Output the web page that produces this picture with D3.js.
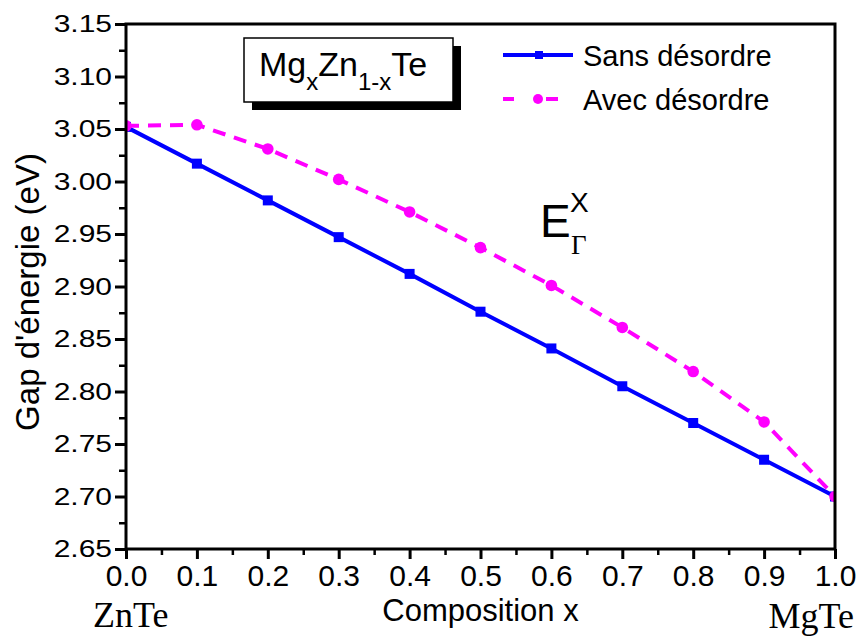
<!DOCTYPE html>
<meta charset="utf-8">
<script src="https://d3js.org/d3.v7.min.js"></script>
<style>
  body { margin: 0; background: #fff; }
  text { font-family: "Liberation Sans", Arial, sans-serif; fill: #000; }
  .serif { font-family: "Liberation Serif", "Times New Roman", serif; }
</style>
<div id="chart"></div>
<script>

// data
var composition = [0.0, 0.1, 0.2, 0.3, 0.4, 0.5, 0.6, 0.7, 0.8, 0.9, 1.0];
var sansDesordre = [3.052, 3.017, 2.982, 2.947, 2.912, 2.876, 2.841, 2.805, 2.770, 2.735, 2.700];
var avecDesordre = [3.053, 3.054, 3.031, 3.002, 2.971, 2.937, 2.901, 2.861, 2.819, 2.771, 2.700];
var xTicks = [0.0, 0.1, 0.2, 0.3, 0.4, 0.5, 0.6, 0.7, 0.8, 0.9, 1.0];
var yTicks = [2.65, 2.70, 2.75, 2.80, 2.85, 2.90, 2.95, 3.00, 3.05, 3.10, 3.15];

var W = 857, H = 644;
var margin = {top: 24, right: 22, bottom: 95, left: 126},
    width = W - margin.left - margin.right,
    height = H - margin.top - margin.bottom;

var svg = d3.select("#chart").append("svg")
    .attr("width", W)
    .attr("height", H);

var g = svg.append("g")
    .attr("transform", "translate(" + margin.left + "," + margin.top + ")");

var x = d3.scaleLinear().domain([0, 1]).range([0, width]);
var y = d3.scaleLinear().domain([2.65, 3.15]).range([height, 0]);

// minor ticks (half steps)
var xMinor = d3.range(0.05, 1, 0.1);
var yMinor = d3.range(2.675, 3.15, 0.05);

g.append("g")
    .attr("transform", "translate(0," + height + ")")
    .call(d3.axisBottom(x).tickValues(xMinor).tickSize(6).tickSizeOuter(0).tickFormat(""))
    .call(function(a) { a.select(".domain").remove(); a.selectAll("line").attr("stroke-width", 2.5); });

g.append("g")
    .call(d3.axisLeft(y).tickValues(yMinor).tickSize(7).tickSizeOuter(0).tickFormat(""))
    .call(function(a) { a.select(".domain").remove(); a.selectAll("line").attr("stroke-width", 2.5); });

// x axis
var xAxis = g.append("g")
    .attr("transform", "translate(0," + height + ")")
    .call(d3.axisBottom(x).tickValues(xTicks).tickSize(10).tickSizeOuter(0).tickPadding(6)
      .tickFormat(d3.format(".1f")));
xAxis.select(".domain").remove();
xAxis.selectAll("line").attr("stroke-width", 3);
xAxis.selectAll("text").style("font-size", "30px").attr("font-family", null);

// y axis (labels a bit flattened, as in the original)
var yAxis = g.append("g")
    .call(d3.axisLeft(y).tickValues(yTicks).tickSize(11).tickSizeOuter(0).tickFormat(d3.format(".2f")));
yAxis.select(".domain").remove();
yAxis.selectAll("line").attr("stroke-width", 3);
yAxis.selectAll("text")
    .attr("x", 0)
    .attr("transform", "translate(-14,0) scale(1.25,1)")
    .style("font-size", "24px")
    .attr("font-family", null);

// clip for the data
g.append("clipPath").attr("id", "clip")
  .append("rect").attr("width", width).attr("height", height);

var plot = g.append("g").attr("clip-path", "url(#clip)");

var sansData = composition.map(function(c, i) { return [c, sansDesordre[i]]; });
var avecData = composition.map(function(c, i) { return [c, avecDesordre[i]]; });

var line = d3.line()
    .x(function(d) { return x(d[0]); })
    .y(function(d) { return y(d[1]); });

plot.append("path")
    .datum(sansData)
    .attr("fill", "none")
    .attr("stroke", "#0000ff")
    .attr("stroke-width", 4)
    .attr("d", line);

plot.selectAll(".sq")
  .data(sansData)
  .enter().append("rect")
    .attr("x", function(d) { return x(d[0]) - 5; })
    .attr("y", function(d) { return y(d[1]) - 5; })
    .attr("width", 10)
    .attr("height", 10)
    .attr("fill", "#0000ff");

plot.append("path")
    .datum(avecData)
    .attr("fill", "none")
    .attr("stroke", "#ff00ff")
    .attr("stroke-width", 4)
    .attr("stroke-dasharray", "13,9")
    .attr("d", line);

plot.selectAll(".dot")
  .data(avecData)
  .enter().append("circle")
    .attr("cx", function(d) { return x(d[0]); })
    .attr("cy", function(d) { return y(d[1]); })
    .attr("r", 5.8)
    .attr("fill", "#ff00ff");

// frame
g.append("rect")
    .attr("width", width)
    .attr("height", height)
    .attr("fill", "none")
    .attr("stroke", "#000")
    .attr("stroke-width", 3);

// axis titles
svg.append("text")
    .attr("transform", "translate(39,292) rotate(-90)")
    .attr("text-anchor", "middle")
    .style("font-size", "33px")
    .text("Gap d'énergie (eV)");

svg.append("text")
    .attr("x", margin.left + width / 2)
    .attr("y", 621)
    .attr("text-anchor", "middle")
    .style("font-size", "31px")
    .text("Composition x");

svg.append("text").attr("class", "serif")
    .attr("x", 93).attr("y", 627)
    .style("font-size", "36px")
    .text("ZnTe");

svg.append("text").attr("class", "serif")
    .attr("x", 854).attr("y", 628)
    .attr("text-anchor", "end")
    .style("font-size", "36px")
    .text("MgTe");

// title box with shadow
svg.append("rect")
    .attr("x", 252).attr("y", 46).attr("width", 209).attr("height", 64)
    .attr("fill", "#000");
svg.append("rect")
    .attr("x", 244).attr("y", 38).attr("width", 209).attr("height", 64)
    .attr("fill", "#fff").attr("stroke", "#000").attr("stroke-width", 1.5);

var title = svg.append("text")
    .attr("x", 259).attr("y", 76)
    .style("font-size", "34px");
title.append("tspan").text("Mg");
title.append("tspan").attr("dy", 14).style("font-size", "24px").text("x");
title.append("tspan").attr("dy", -14).text("Zn");
title.append("tspan").attr("dy", 14).style("font-size", "24px").text("1-x");
title.append("tspan").attr("dy", -14).text("Te");

// legend
var legend = svg.append("g");
legend.append("line")
    .attr("x1", 503).attr("x2", 573).attr("y1", 55).attr("y2", 55)
    .attr("stroke", "#0000ff").attr("stroke-width", 4);
legend.append("rect")
    .attr("x", 535).attr("y", 51).attr("width", 8).attr("height", 8)
    .attr("fill", "#0000ff");
legend.append("text")
    .attr("x", 583).attr("y", 66)
    .style("font-size", "29px")
    .text("Sans désordre");

legend.append("line")
    .attr("x1", 503).attr("x2", 558).attr("y1", 99).attr("y2", 99)
    .attr("stroke", "#ff00ff").attr("stroke-width", 4)
    .attr("stroke-dasharray", "11,32,12");
legend.append("circle")
    .attr("cx", 538).attr("cy", 99).attr("r", 5)
    .attr("fill", "#ff00ff");
legend.append("text")
    .attr("x", 583).attr("y", 110)
    .style("font-size", "29px")
    .text("Avec désordre");

// E_Gamma^X annotation
svg.append("text")
    .attr("x", 540).attr("y", 237)
    .style("font-size", "46px")
    .text("E");
svg.append("text")
    .attr("x", 570).attr("y", 212)
    .style("font-size", "28px")
    .text("X");
svg.append("text").attr("class", "serif")
    .attr("x", 571).attr("y", 254)
    .style("font-size", "27px")
    .text("Γ");

</script>
